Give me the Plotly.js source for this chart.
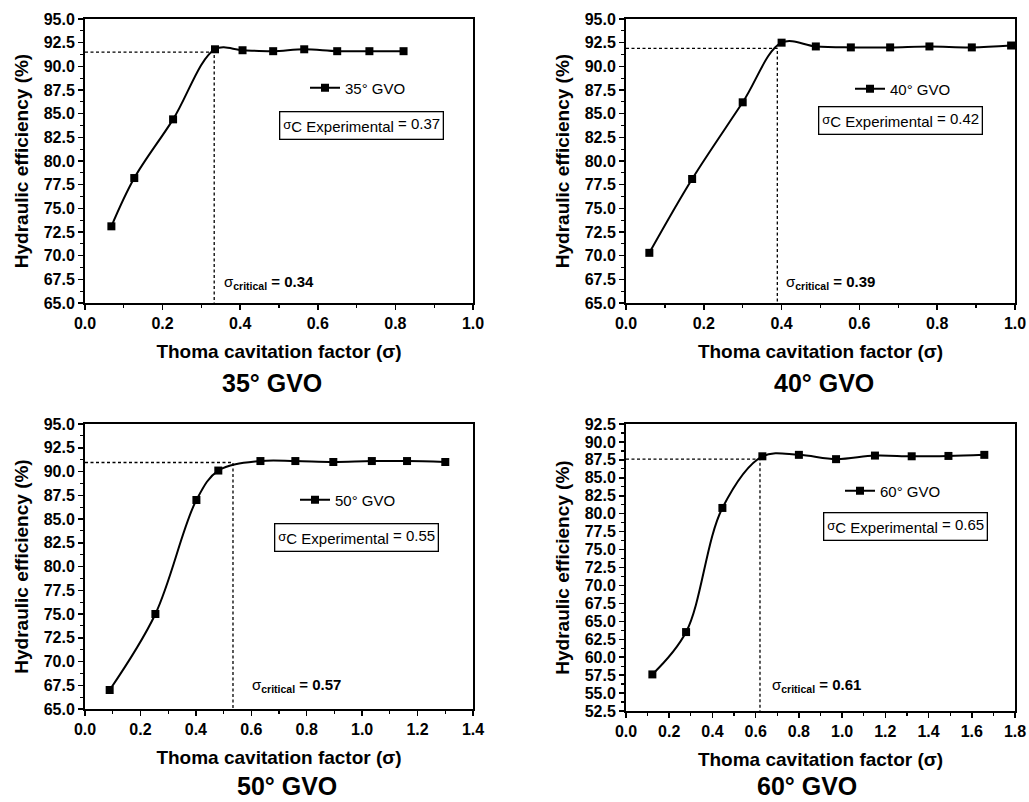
<!DOCTYPE html>
<html>
<head>
<meta charset="utf-8">
<script src="https://cdn.plot.ly/plotly-3.0.1.min.js"></script>
<style>html,body{margin:0;padding:0;background:#fff;}#chart{width:1029px;height:802px;}</style>
</head>
<body>
<div id="chart"></div>
<script>
// ---- data ----
const gvoAngles = ["35", "40", "50", "60"];
const sigma35 = [0.068, 0.127, 0.227, 0.335, 0.406, 0.485, 0.565, 0.650, 0.733, 0.821];
const eff35   = [73.1, 78.2, 84.4, 91.8, 91.7, 91.6, 91.8, 91.6, 91.6, 91.6];
const sigma40 = [0.060, 0.170, 0.300, 0.400, 0.488, 0.578, 0.679, 0.780, 0.889, 0.990];
const eff40   = [70.3, 78.1, 86.2, 92.5, 92.1, 92.0, 92.0, 92.1, 92.0, 92.2];
const sigma50 = [0.089, 0.254, 0.402, 0.481, 0.633, 0.759, 0.896, 1.035, 1.162, 1.300];
const eff50   = [67.0, 75.0, 87.0, 90.1, 91.1, 91.1, 91.0, 91.1, 91.1, 91.0];
const sigma60 = [0.122, 0.278, 0.446, 0.631, 0.800, 0.972, 1.152, 1.322, 1.492, 1.658];
const eff60   = [57.6, 63.5, 80.8, 88.0, 88.2, 87.6, 88.1, 88.0, 88.05, 88.2];
const critSigma = [0.333, 0.389, 0.534, 0.620];   // dashed vertical lines
const critEff   = [91.5, 91.9, 90.95, 87.6];      // dashed horizontal lines
const critLabel = ["0.34", "0.39", "0.57", "0.61"];
const expLabel  = ["0.37", "0.42", "0.55", "0.65"];
const yRanges = [[65, 95], [65, 95], [65, 95], [52.5, 92.5]];
const xRanges = [[0, 1.0], [0, 1.0], [0, 1.4], [0, 1.8]];

const sigmas = [sigma35, sigma40, sigma50, sigma60];
const effs = [eff35, eff40, eff50, eff60];

// ---- layout geometry (pixels) ----
const W = 1029, H = 802;
const boxes = [ // left, right, top, bottom
  [85, 473, 19, 303],
  [626, 1015, 19, 303],
  [85, 473, 424, 709],
  [626, 1015, 424, 711]
];
const FONT = "Arial, 'Liberation Sans', Helvetica, sans-serif";
const px = v => v / W;
const py = v => 1 - v / H;

const traces = [];
const layout = {
  width: W, height: H,
  margin: {l: 0, r: 0, t: 0, b: 0},
  paper_bgcolor: "#fff", plot_bgcolor: "#fff",
  font: {family: FONT, color: "#000", size: 15},
  showlegend: true,
  annotations: []
};

const legendPos = [[305, 88], [850, 89], [295, 500], [840, 491]];
const expBoxPos = [[361, 125], [900, 120], [356, 537], [905, 526]];
const critPos = [[222, 282], [784, 283], [250, 685], [770, 685]];
const titlePos = [[272, 383], [824, 383], [287, 786], [807, 786]];

for (let i = 0; i < 4; i++) {
  const n = i === 0 ? "" : String(i + 1);
  const xa = "x" + n, ya = "y" + n;
  const b = boxes[i];
  const legName = i === 0 ? "legend" : "legend" + (i + 1);

  // dashed guide lines (critical point)
  traces.push({
    x: [xRanges[i][0], critSigma[i], critSigma[i]],
    y: [critEff[i], critEff[i], yRanges[i][0]],
    xaxis: xa, yaxis: ya, mode: "lines", showlegend: false, hoverinfo: "skip",
    line: {color: "#000", width: 1.3, dash: "3px,2.5px"}
  });
  // main series
  traces.push({
    x: sigmas[i], y: effs[i], xaxis: xa, yaxis: ya,
    name: gvoAngles[i] + "° GVO", legend: legName,
    mode: "lines+markers",
    line: {color: "#000", width: 2, shape: "spline", smoothing: 1},
    marker: {symbol: "square", size: 8, color: "#000"},
    cliponaxis: false
  });

  layout["xaxis" + n] = {
    domain: [px(b[0]), px(b[1])], anchor: ya, range: xRanges[i],
    dtick: 0.2, tick0: 0, tickformat: ".1f",
    showline: true, mirror: true, linewidth: 2, linecolor: "#000",
    ticks: "outside", ticklen: 5, tickwidth: 1.5, tickcolor: "#000",
    minor: {ticks: "outside", ticklen: 3, tickwidth: 1.2, tickcolor: "#000", dtick: 0.1, showgrid: false},
    showgrid: false, zeroline: false,
    tickfont: {family: FONT, size: 16, color: "#000", weight: 700},
    title: {text: "Thoma cavitation factor (σ)", font: {family: FONT, size: 19, color: "#000", weight: 700}, standoff: 13}
  };
  layout["yaxis" + n] = {
    domain: [py(b[3]), py(b[2])], anchor: xa, range: yRanges[i],
    dtick: 2.5, tick0: 0, tickformat: ".1f",
    showline: true, mirror: true, linewidth: 2, linecolor: "#000",
    ticks: "outside", ticklen: 5, tickwidth: 1.5, tickcolor: "#000",
    minor: {ticks: "outside", ticklen: 3, tickwidth: 1.2, tickcolor: "#000", dtick: 1.25, showgrid: false},
    showgrid: false, zeroline: false,
    tickfont: {family: FONT, size: 16, color: "#000", weight: 700},
    title: {text: "Hydraulic efficiency (%)", font: {family: FONT, size: 19, color: "#000", weight: 700}, standoff: 10}
  };
  layout[legName] = {
    x: px(legendPos[i][0]), y: py(legendPos[i][1]), xanchor: "left", yanchor: "middle",
    bgcolor: "rgba(0,0,0,0)", borderwidth: 0,
    font: {family: FONT, size: 15, color: "#000"}, itemwidth: 30
  };

  // experimental sigma box
  layout.annotations.push({
    xref: "paper", yref: "paper", x: px(expBoxPos[i][0]), y: py(expBoxPos[i][1]),
    xanchor: "center", yanchor: "middle", showarrow: false,
    text: "<span style='font-size:13px'>σ</span><sub><span style='font-size:15px'>C Experimental</span></sub> = " + expLabel[i],
    font: {family: FONT, size: 15, color: "#000"},
    bordercolor: "#000", borderwidth: 1.3, borderpad: 3, bgcolor: "#fff"
  });
  // critical sigma label
  layout.annotations.push({
    xref: "paper", yref: "paper", x: px(critPos[i][0]), y: py(critPos[i][1]),
    xanchor: "left", yanchor: "middle", showarrow: false,
    text: "σ<sub><b>critical</b></sub><b> = " + critLabel[i] + "</b>",
    font: {family: FONT, size: 15, color: "#000"}
  });
  // panel title
  layout.annotations.push({
    xref: "paper", yref: "paper", x: px(titlePos[i][0]), y: py(titlePos[i][1]),
    xanchor: "center", yanchor: "middle", showarrow: false,
    text: "<b>" + gvoAngles[i] + "° GVO</b>",
    font: {family: FONT, size: 25, color: "#000"}
  });
}

Plotly.newPlot("chart", traces, layout, {staticPlot: true, displayModeBar: false});
</script>
</body>
</html>
